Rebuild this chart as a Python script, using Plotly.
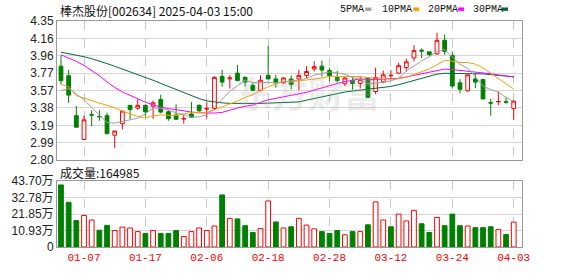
import plotly.graph_objects as go

dates = ["01-02","01-03","01-06","01-07","01-08","01-09","01-10","01-13","01-14","01-15",
         "01-16","01-17","01-20","01-21","01-22","01-23","01-24","01-27","02-05","02-06",
         "02-07","02-10","02-11","02-12","02-13","02-14","02-17","02-18","02-19","02-20",
         "02-21","02-24","02-25","02-26","02-27","02-28","03-03","03-04","03-05","03-06",
         "03-07","03-10","03-11","03-12","03-13","03-14","03-17","03-18","03-19","03-20",
         "03-21","03-24","03-25","03-26","03-27","03-28","03-31","04-01","04-02","04-03"]

opens = [3.847,3.740,3.295,3.029,3.306,3.287,3.295,3.077,3.206,3.410,
         3.378,3.410,3.400,3.475,3.338,3.303,3.258,3.313,3.410,3.368,
         3.375,3.733,3.705,3.769,3.722,3.632,3.578,3.744,3.704,3.661,
         3.704,3.704,3.744,3.815,3.847,3.798,3.722,3.650,3.686,3.654,
         3.715,3.564,3.672,3.740,3.769,3.830,3.938,4.025,4.006,3.984,
         4.135,3.966,3.661,3.572,3.704,3.697,3.440,3.449,3.450,3.374]
highs = [3.966,3.804,3.403,3.295,3.356,3.356,3.327,3.130,3.346,3.410,
         3.478,3.420,3.464,3.529,3.356,3.421,3.303,3.446,3.421,3.446,
         3.735,3.804,3.744,3.860,3.733,3.669,3.744,4.070,3.750,3.722,
         3.744,3.804,3.847,3.901,3.909,3.830,3.794,3.722,3.733,3.733,
         3.715,3.830,3.798,3.804,3.884,3.930,4.081,4.045,4.006,4.218,
         4.200,4.009,3.704,3.750,3.758,3.697,3.481,3.564,3.500,3.464]
lows = [3.643,3.438,3.166,3.029,3.177,3.238,3.094,2.932,3.141,3.255,
        3.363,3.284,3.260,3.320,3.238,3.250,3.206,3.277,3.338,3.266,
        3.360,3.618,3.597,3.679,3.618,3.572,3.578,3.704,3.607,3.650,
        3.589,3.578,3.715,3.787,3.733,3.679,3.661,3.626,3.583,3.597,
        3.500,3.535,3.654,3.704,3.760,3.787,3.900,3.938,3.960,3.973,
        3.973,3.597,3.543,3.561,3.600,3.481,3.295,3.410,3.428,3.249]
closes = [3.686,3.524,3.166,3.249,3.303,3.284,3.094,3.123,3.346,3.363,
          3.410,3.338,3.438,3.335,3.262,3.255,3.262,3.277,3.349,3.375,
          3.722,3.669,3.715,3.686,3.669,3.578,3.690,3.704,3.661,3.715,
          3.643,3.744,3.787,3.841,3.804,3.740,3.686,3.715,3.654,3.697,
          3.500,3.722,3.750,3.744,3.852,3.895,4.020,4.015,3.977,4.135,
          4.009,3.626,3.589,3.750,3.669,3.481,3.435,3.453,3.445,3.457]
volumes = [411000,296000,175000,209000,179000,111000,143000,109000,132000,126000,
           102000,90000,109000,90000,90000,109000,70000,102000,126000,109000,
           139000,345000,190000,186000,141000,96000,122000,305000,166000,126000,
           134000,190000,145000,120000,102000,90000,109000,81000,102000,102000,
           147000,299000,179000,134000,218000,173000,243000,154000,96000,196000,
           141000,218000,141000,139000,128000,128000,134000,115000,83000,164985]

ma5 = [3.575,3.595,3.535,3.475,3.386,3.305,3.219,3.211,3.230,3.242,
       3.267,3.316,3.379,3.377,3.357,3.326,3.310,3.278,3.281,3.304,
       3.397,3.478,3.566,3.633,3.692,3.663,3.668,3.665,3.660,3.670,
       3.683,3.693,3.710,3.746,3.764,3.783,3.772,3.757,3.720,3.698,
       3.650,3.658,3.665,3.683,3.714,3.793,3.852,3.905,3.952,4.008,
       4.031,3.952,3.867,3.822,3.729,3.623,3.585,3.558,3.497,3.454]
ma10 = [3.643,3.615,3.518,3.489,3.457,3.435,3.410,3.384,3.346,3.314,
        3.286,3.268,3.295,3.303,3.299,3.296,3.313,3.329,3.329,3.330,
        3.361,3.394,3.422,3.457,3.498,3.530,3.573,3.616,3.647,3.681,
        3.673,3.681,3.688,3.703,3.717,3.733,3.733,3.734,3.733,3.731,
        3.717,3.715,3.711,3.701,3.706,3.722,3.755,3.785,3.817,3.861,
        3.912,3.902,3.886,3.887,3.869,3.827,3.769,3.712,3.659,3.591]
ma20 = [3.973,3.940,3.900,3.855,3.800,3.740,3.670,3.610,3.560,3.520,
        3.480,3.445,3.415,3.390,3.375,3.360,3.345,3.335,3.327,3.322,
        3.324,3.331,3.358,3.380,3.399,3.413,3.443,3.472,3.488,3.506,
        3.517,3.537,3.555,3.580,3.607,3.632,3.653,3.675,3.690,3.706,
        3.695,3.698,3.699,3.702,3.711,3.727,3.744,3.759,3.775,3.796,
        3.814,3.808,3.799,3.794,3.787,3.774,3.762,3.749,3.738,3.726]
ma30 = [4.002,3.987,3.970,3.952,3.930,3.905,3.875,3.845,3.815,3.785,
        3.755,3.720,3.690,3.655,3.620,3.585,3.550,3.515,3.485,3.460,
        3.445,3.438,3.432,3.430,3.430,3.430,3.432,3.435,3.438,3.442,
        3.440,3.448,3.468,3.488,3.505,3.520,3.540,3.559,3.570,3.581,
        3.584,3.597,3.607,3.621,3.640,3.662,3.687,3.711,3.732,3.758,
        3.767,3.766,3.762,3.764,3.764,3.761,3.752,3.744,3.736,3.728]

price_tickvals = [2.8, 2.99375, 3.1875, 3.38125, 3.575, 3.76875, 3.9625, 4.15625, 4.35]
price_ticktext = ["2.80","2.99","3.19","3.38","3.57","3.77","3.96","4.16","4.35"]
vol_tickvals = [0, 109250, 218500, 327750, 437000]
vol_ticktext = ["0","10.93万","21.85万","32.78万","43.70万"]
date_ticks = ["01-07","01-17","02-06","02-18","02-28","03-12","03-24","04-03"]

title_text = "棒杰股份[002634] 2025-04-03 15:00"
vol_label = "成交量:164985"
ma_names = ["5PMA","10PMA","20PMA","30PMA"]
watermark = "东方财富"

RED = "#FF0000"
GREEN = "#008000"
MA_COLORS = ["#A0A0A0", "#F5A300", "#FF00FF", "#006B35"]

# volume colours: compare with previous close
vol_fill, vol_line = [], []
for i, c in enumerate(closes):
    prev = closes[i-1] if i > 0 else opens[0]
    up = c >= prev
    vol_fill.append("#FFFFFF" if up else GREEN)
    vol_line.append(RED if up else GREEN)

fig = go.Figure()
fig.add_trace(go.Candlestick(
    x=dates, open=opens, high=highs, low=lows, close=closes,
    increasing=dict(line=dict(color=RED, width=1), fillcolor="#FFFFFF"),
    decreasing=dict(line=dict(color=GREEN, width=1), fillcolor=GREEN),
    whiskerwidth=0, xaxis="x", yaxis="y", showlegend=False, hoverinfo="skip"))
for vals, col in zip([ma30, ma20, ma10, ma5], MA_COLORS[::-1]):
    fig.add_trace(go.Scatter(x=dates, y=vals, mode="lines",
                             line=dict(color=col, width=1, shape="linear"),
                             xaxis="x", yaxis="y", showlegend=False, hoverinfo="skip"))
fig.add_trace(go.Bar(x=dates, y=volumes, width=0.62,
                     marker=dict(color=vol_fill, line=dict(color=vol_line, width=1)),
                     xaxis="x2", yaxis="y2", showlegend=False, hoverinfo="skip"))

L, R, T, B = 56, 56, 21, 21
W, H = 578, 276
PW, PH = W - L - R, H - T - B
def px(x):
    return (x - L) / PW
def py(y):
    return (H - B - y) / PH

axis_common = dict(showline=True, mirror=True, linecolor="#999999", linewidth=1,
                   zeroline=False, fixedrange=True)
xcommon = dict(type="category", categoryorder="array", categoryarray=dates,
               range=[-0.52, 60.08], tickvals=date_ticks, showgrid=True,
               gridcolor="#C8C8C8", griddash="dash", gridwidth=1, ticks="",
               rangeslider=dict(visible=False), **axis_common)

fig.update_layout(
    width=W, height=H, margin=dict(l=L, r=R, t=T, b=B, pad=0),
    paper_bgcolor="#FFFFFF", plot_bgcolor="#FFFFFF",
    bargap=0.3,
    xaxis=dict(anchor="y", showticklabels=False, **xcommon),
    xaxis2=dict(anchor="y2", matches="x", showticklabels=True,
                tickfont=dict(family="Liberation Mono, monospace", size=11, color=RED),
                **xcommon),
    yaxis=dict(domain=[py(165), 1.0], range=[2.80, 4.35], tickvals=price_tickvals,
               ticktext=price_ticktext, showgrid=True, gridcolor="#D6D6D6", ticks="",
               tickfont=dict(family="Liberation Sans, Arial", size=12, color="#222222"),
               **axis_common),
    yaxis2=dict(domain=[0, py(186.7)], range=[0, 437000], tickvals=vol_tickvals,
                ticktext=vol_ticktext, showgrid=True, gridcolor="#D6D6D6", ticks="",
                tickfont=dict(family="Liberation Sans, Noto Sans CJK SC", size=12, color="#222222"),
                **axis_common),
)

annotations = [
    dict(text="<b>" + watermark + "</b>", x=px(308), y=py(94), xref="paper", yref="paper",
         xanchor="center", yanchor="middle", showarrow=False,
         font=dict(family="Noto Sans CJK SC", size=36, color="rgba(170,170,170,0.22)")),
    dict(text=title_text, x=px(57), y=py(10), xref="paper", yref="paper", xanchor="left",
         yanchor="middle", showarrow=False,
         font=dict(family="Noto Sans CJK SC", size=12, color="#111111")),
    dict(text=vol_label, x=px(57), y=py(178), xref="paper", yref="paper", xanchor="left",
         yanchor="middle", showarrow=False,
         font=dict(family="Noto Sans CJK SC", size=12, color="#111111")),
]
legend_x = [338, 380, 426, 471]
square_x = [365, 413, 458, 502]
shapes = []
for name, lx, sx, col in zip(ma_names, legend_x, square_x, MA_COLORS):
    annotations.append(dict(text=name, x=px(lx), y=py(9), xref="paper", yref="paper",
                            xanchor="left", yanchor="middle", showarrow=False,
                            font=dict(family="Liberation Mono, monospace", size=10, color="#111111")))
    shapes.append(dict(type="rect", xref="paper", yref="paper", x0=px(sx), x1=px(sx + 6),
                       y0=py(10.5), y1=py(7), fillcolor=col, line=dict(width=0)))
fig.update_layout(annotations=annotations, shapes=shapes)

fig.write_html("out.html", config={"displayModeBar": False})
